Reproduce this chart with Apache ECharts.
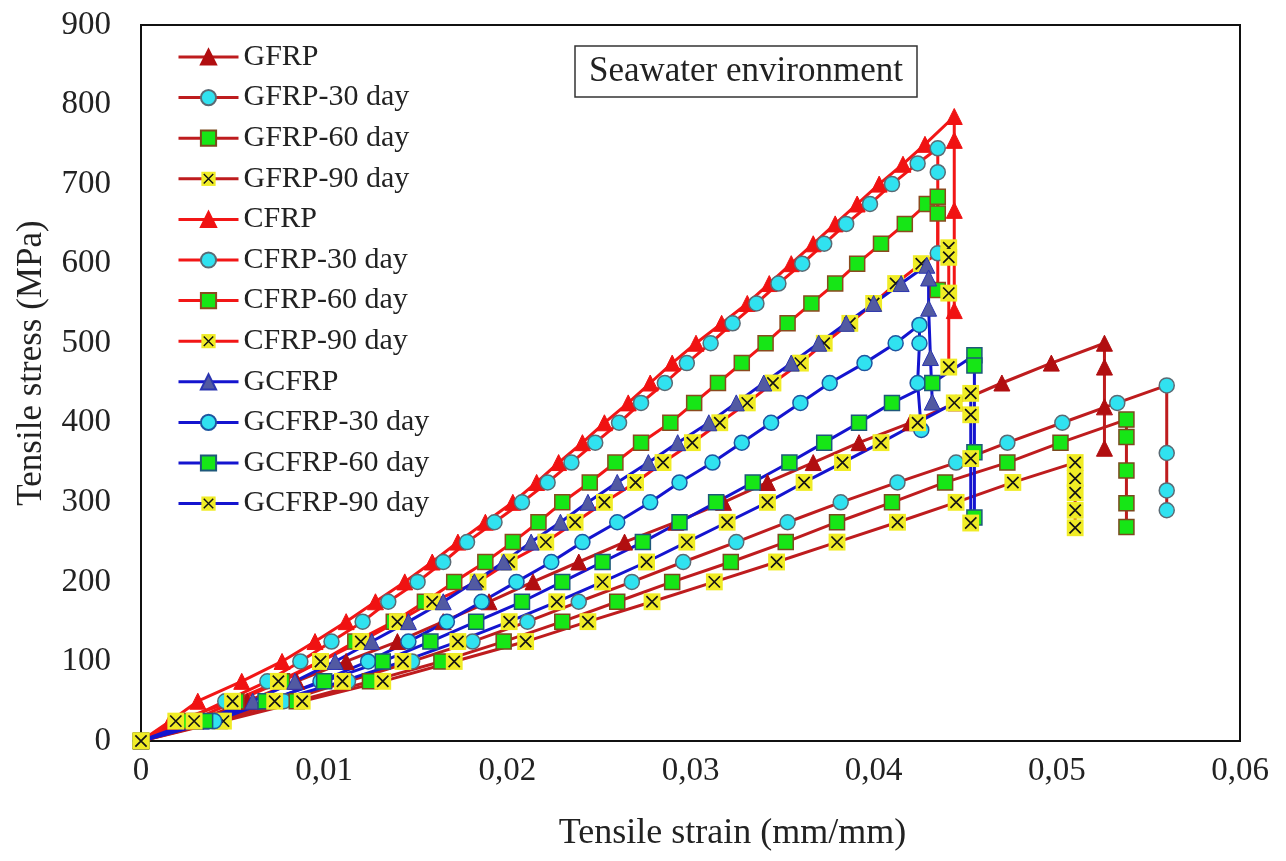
<!DOCTYPE html>
<html>
<head>
<meta charset="utf-8">
<script src="https://cdn.jsdelivr.net/npm/echarts@6/dist/echarts.min.js"></script>
<style>html,body{margin:0;padding:0;background:#fff}#c{width:1286px;height:861px}</style>
</head>
<body>
<div id="c"></div>
<script>
// ---- data: [strain (mm/mm), stress (MPa)] ----
const gfrp = [[0,0],[0.0030,25],[0.0058,50],[0.0085,75],[0.0112,100],[0.0140,125],[0.0165,150],[0.0190,175],[0.0214,200],[0.0239,225],[0.0264,250],[0.0292,275],[0.0318,300],[0.0342,325],[0.0367,350],[0.0392,375],[0.0420,400],[0.0445,425],[0.0470,450],[0.0497,475],[0.0526,500],[0.0526,470],[0.0526,420],[0.0526,368]];
const gfrp30 = [[0,0],[0.0040,25],[0.0078,50],[0.0113,75],[0.0148,100],[0.0181,125],[0.0211,150],[0.0239,175],[0.0268,200],[0.0296,225],[0.0325,250],[0.0353,275],[0.0382,300],[0.0413,325],[0.0445,350],[0.0473,375],[0.0503,400],[0.0533,425],[0.0560,447],[0.0560,362],[0.0560,315],[0.0560,290]];
const gfrp60 = [[0,0],[0.0043,25],[0.0085,50],[0.0125,75],[0.0164,100],[0.0198,125],[0.0230,150],[0.0260,175],[0.0290,200],[0.0322,225],[0.0352,250],[0.0380,275],[0.0410,300],[0.0439,325],[0.0473,350],[0.0502,375],[0.0538,404],[0.0538,382],[0.0538,340],[0.0538,299],[0.0538,269]];
const gfrp90 = [[0,0],[0.0045,25],[0.0088,50],[0.0132,75],[0.0171,100],[0.0210,125],[0.0244,150],[0.0279,175],[0.0313,200],[0.0347,225],[0.0380,250],[0.0413,275],[0.0445,300],[0.0476,325],[0.0510,350],[0.0510,330],[0.0510,312],[0.0510,290],[0.0510,268]];
const cfrp = [[0,0],[0.0016,25],[0.0031,50],[0.0055,75],[0.0077,100],[0.0095,125],[0.0112,150],[0.0128,175],[0.0144,200],[0.0159,225],[0.0173,250],[0.0188,275],[0.0203,300],[0.0216,325],[0.0228,350],[0.0241,375],[0.0253,400],[0.0266,425],[0.0278,450],[0.0290,475],[0.0303,500],[0.0317,525],[0.0331,550],[0.0343,575],[0.0355,600],[0.0367,625],[0.0379,650],[0.0391,675],[0.0403,700],[0.0416,725],[0.0428,750],[0.0444,785],[0.0444,755],[0.0444,667],[0.0444,541]];
const cfrp30 = [[0,0],[0.0023,25],[0.0046,50],[0.0069,75],[0.0087,100],[0.0104,125],[0.0121,150],[0.0135,175],[0.0151,200],[0.0165,225],[0.0178,250],[0.0193,275],[0.0208,300],[0.0222,325],[0.0235,350],[0.0248,375],[0.0261,400],[0.0273,425],[0.0286,450],[0.0298,475],[0.0311,500],[0.0323,525],[0.0336,550],[0.0348,575],[0.0361,600],[0.0373,625],[0.0385,650],[0.0398,675],[0.0410,700],[0.0424,726],[0.0435,745],[0.0435,715],[0.0435,613]];
const cfrp60 = [[0,0],[0.0027,25],[0.0052,50],[0.0077,75],[0.0098,100],[0.0117,125],[0.0138,150],[0.0155,175],[0.0171,200],[0.0188,225],[0.0203,250],[0.0217,275],[0.0230,300],[0.0245,325],[0.0259,350],[0.0273,375],[0.0289,400],[0.0302,425],[0.0315,450],[0.0328,475],[0.0341,500],[0.0353,525],[0.0366,550],[0.0379,575],[0.0391,600],[0.0404,625],[0.0417,650],[0.0429,675],[0.0435,684],[0.0435,663],[0.0435,567]];
const cfrp90 = [[0,0],[0.0019,25],[0.0050,50],[0.0075,75],[0.0098,100],[0.0120,125],[0.0140,150],[0.0159,175],[0.0184,200],[0.0201,225],[0.0221,250],[0.0237,275],[0.0253,300],[0.0270,325],[0.0285,350],[0.0301,375],[0.0316,400],[0.0331,425],[0.0345,450],[0.0360,475],[0.0373,500],[0.0387,525],[0.0400,550],[0.0412,575],[0.0426,600],[0.0441,620],[0.0441,608],[0.0441,563],[0.0441,470]];
const gcfrp = [[0,0],[0.0033,25],[0.0061,50],[0.0084,75],[0.0106,100],[0.0126,125],[0.0146,150],[0.0165,175],[0.0182,200],[0.0198,225],[0.0213,250],[0.0229,275],[0.0244,300],[0.0260,325],[0.0277,350],[0.0293,375],[0.0310,400],[0.0325,425],[0.0340,450],[0.0355,475],[0.0370,500],[0.0385,525],[0.0400,550],[0.0415,575],[0.0429,598],[0.0430,582],[0.0430,544],[0.0431,482],[0.0432,426]];
const gcfrp30 = [[0,0],[0.0040,25],[0.0070,50],[0.0098,75],[0.0124,100],[0.0146,125],[0.0167,150],[0.0186,175],[0.0205,200],[0.0224,225],[0.0241,250],[0.0260,275],[0.0278,300],[0.0294,325],[0.0312,350],[0.0328,375],[0.0344,400],[0.0360,425],[0.0376,450],[0.0395,475],[0.0412,500],[0.0425,523],[0.0425,500],[0.0424,450],[0.0426,391]];
const gcfrp60 = [[0,0],[0.0035,25],[0.0068,50],[0.0100,75],[0.0132,100],[0.0158,125],[0.0183,150],[0.0208,175],[0.0230,200],[0.0252,225],[0.0274,250],[0.0294,275],[0.0314,300],[0.0334,325],[0.0354,350],[0.0373,375],[0.0392,400],[0.0410,425],[0.0432,450],[0.0455,485],[0.0455,472],[0.0455,363],[0.0455,281]];
const gcfrp90 = [[0,0],[0.0029,25],[0.0073,50],[0.0110,75],[0.0143,100],[0.0173,125],[0.0201,150],[0.0227,175],[0.0252,200],[0.0276,225],[0.0298,250],[0.0320,275],[0.0342,300],[0.0362,325],[0.0383,350],[0.0404,375],[0.0424,400],[0.0444,425],[0.0453,437],[0.0453,410],[0.0453,355],[0.0453,274]];

const seriesNames = ['GFRP','GFRP-30 day','GFRP-60 day','GFRP-90 day','CFRP','CFRP-30 day','CFRP-60 day','CFRP-90 day','GCFRP','GCFRP-30 day','GCFRP-60 day','GCFRP-90 day'];
const seriesData = [gfrp,gfrp30,gfrp60,gfrp90,cfrp,cfrp30,cfrp60,cfrp90,gcfrp,gcfrp30,gcfrp60,gcfrp90];
const xTicks = ['0','0,01','0,02','0,03','0,04','0,05','0,06'];
const titleText = 'Seawater environment';

// ---- styles ----
const FONT = '"Liberation Serif", "Times New Roman", serif';
const lineColors = {G:'#BE1C1E', C:'#F21616', H:'#1414CF'};
const triFill = {G:'#B10E10', C:'#F01212', H:'#525AA2'};
const sqBorder = {G:'#7A4A1E', C:'#8A4A1E', H:'#1E587A'};
const xSvg = "<svg xmlns='http://www.w3.org/2000/svg' width='32' height='32'><rect x='1' y='1' width='30' height='30' fill='#F0EC26'/><path d='M6 6L26 26M26 6L6 26' stroke='#141414' stroke-width='3'/></svg>";
const xMark = 'image://data:image/svg+xml;charset=utf-8,' + encodeURIComponent(xSvg);

function makeSeries(i){
  const grp = i < 4 ? 'G' : (i < 8 ? 'C' : 'H');
  const kind = i % 4;
  const lc = lineColors[grp];
  let symbol, size, itemStyle;
  if (kind === 0) { symbol = 'triangle'; size = 16; itemStyle = {color: triFill[grp], borderColor: grp==='H' ? '#2A34B0' : triFill[grp], borderWidth: 1}; }
  else if (kind === 1) { symbol = 'circle'; size = 15; itemStyle = {color: '#30E2F0', borderColor: grp==='H' ? '#1E56A0' : '#5A6A74', borderWidth: 1.5}; }
  else if (kind === 2) { symbol = 'rect'; size = 15; itemStyle = {color: '#16E616', borderColor: sqBorder[grp], borderWidth: 1.5}; }
  else { symbol = xMark; size = 18; itemStyle = {color: '#F0EC26'}; }
  return {
    name: seriesNames[i], type: 'line', data: seriesData[i],
    symbol: symbol, symbolSize: size, showAllSymbol: true,
    lineStyle: {color: lc, width: 3}, itemStyle: itemStyle,
    emphasis: {disabled: true}, animation: false, clip: false
  };
}

const chart = echarts.init(document.getElementById('c'), null, {renderer: 'canvas'});
chart.setOption({
  animation: false,
  backgroundColor: '#fff',
  title: {
    text: titleText, left: 575, top: 46,
    padding: [8, 14, 8, 14], borderColor: '#333', borderWidth: 1.5,
    textStyle: {fontFamily: FONT, fontSize: 35, fontWeight: 'normal', color: '#222'}
  },
  legend: {
    orient: 'vertical', left: 177, top: 42, padding: 0,
    itemWidth: 60, itemHeight: 19, itemGap: 10.6,
    lineStyle: {width: 3},
    textStyle: {fontFamily: FONT, fontSize: 30, color: '#222', lineHeight: 30},
    data: seriesNames, selectedMode: false
  },
  grid: {left: 141, right: 46, top: 25, bottom: 120, show: true, borderColor: '#111', borderWidth: 2, containLabel: false},
  xAxis: {
    type: 'value', min: 0, max: 0.06, interval: 0.01,
    name: 'Tensile strain (mm/mm)', nameLocation: 'middle', nameGap: 75,
    nameTextStyle: {fontFamily: FONT, fontSize: 36, color: '#222', padding: [0, 0, 0, 84]},
    axisLine: {show: false}, axisTick: {show: false}, splitLine: {show: false},
    axisLabel: {fontFamily: FONT, fontSize: 33, color: '#222', margin: 14,
      formatter: function(v){ return xTicks[Math.round(v / 0.01)]; }}
  },
  yAxis: {
    type: 'value', min: 0, max: 900, interval: 100,
    name: 'Tensile stress (MPa)', nameLocation: 'middle', nameGap: 92,
    nameTextStyle: {fontFamily: FONT, fontSize: 35, color: '#222', padding: [0, 0, 0, 40]},
    axisLine: {show: false}, axisTick: {show: false}, splitLine: {show: false},
    axisLabel: {fontFamily: FONT, fontSize: 33, color: '#222', margin: 30}
  },
  series: seriesData.map(function(d, i){ return makeSeries(i); })
});
</script>
</body>
</html>
